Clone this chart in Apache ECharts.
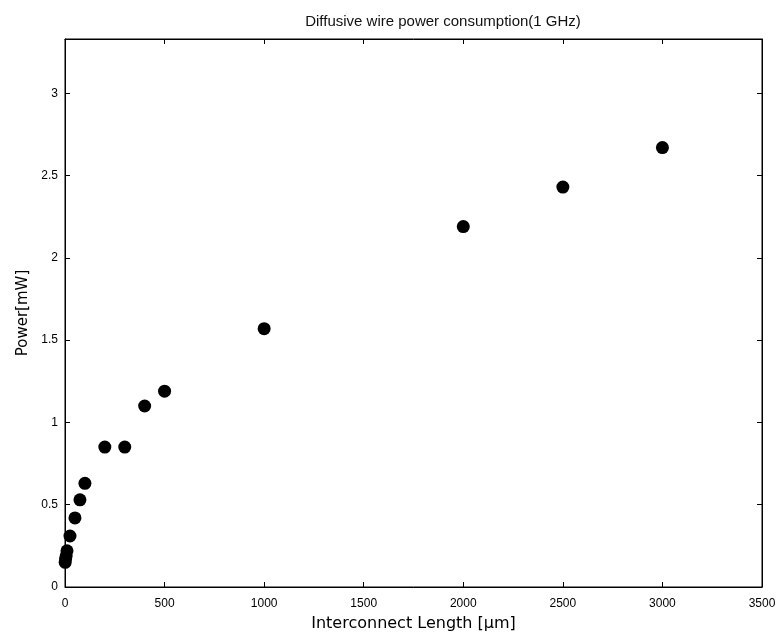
<!DOCTYPE html>
<html>
<head>
<meta charset="utf-8">
<script src="https://cdn.jsdelivr.net/npm/echarts@6/dist/echarts.min.js"></script>
<style>html,body{margin:0;padding:0;background:#fff}#c{width:781px;height:639px}</style>
</head>
<body>
<div id="c"></div>
<script>
var lengths = [1, 3, 6, 10, 25, 50, 75, 100, 200, 300, 400, 500, 1000, 2000, 2500, 3000];
var power = [0.15, 0.17, 0.19, 0.22, 0.31, 0.42, 0.53, 0.63, 0.85, 0.85, 1.10, 1.19, 1.57, 2.19, 2.43, 2.67];
var xTicks = ['0', '500', '1000', '1500', '2000', '2500', '3000', '3500'];
var yTicks = ['0', '0.5', '1', '1.5', '2', '2.5', '3'];

var pts = lengths.map(function (l, i) { return [l, power[i]]; });
var font = 'Liberation Sans';
var wide = 'DejaVu Sans';
var chart = echarts.init(document.getElementById('c'));
var axisLine = { show: true, onZero: false, lineStyle: { color: '#000', width: 1 } };
var tickIn = { show: true, inside: true, length: 5, lineStyle: { color: '#000' } };
chart.setOption({
  animation: false,
  backgroundColor: '#fff',
  title: {
    text: 'Diffusive wire power consumption(1 GHz)',
    left: 438, top: 9, textAlign: 'center',
    textStyle: { fontFamily: font, fontSize: 15, fontWeight: 'normal', color: '#111' }
  },
  grid: { left: 65, right: 19, top: 39, bottom: 52, show: true, borderColor: '#000', borderWidth: 1, backgroundColor: 'transparent' },
  xAxis: [{
    type: 'value', min: 0, max: 3500, interval: 500,
    axisLine: axisLine, axisTick: tickIn, splitLine: { show: false },
    axisLabel: { margin: 11, fontFamily: font, fontSize: 12, color: '#000',
      formatter: function (v) { return xTicks[Math.round(v / 500)]; } },
    name: 'Interconnect Length [μm]', nameLocation: 'middle', nameGap: 29,
    nameTextStyle: { fontFamily: wide, fontSize: 16, color: '#000' }
  }, {
    type: 'value', position: 'top', min: 0, max: 3500, interval: 500,
    axisLine: axisLine, axisTick: tickIn, axisLabel: { show: false }, splitLine: { show: false }
  }],
  yAxis: [{
    type: 'value', min: 0, max: 3.33, interval: 0.5,
    axisLine: axisLine, axisTick: tickIn, splitLine: { show: false },
    axisLabel: { margin: 7, fontFamily: font, fontSize: 12, color: '#000', showMaxLabel: false,
      formatter: function (v) { var k = Math.round(v / 0.5); return yTicks[k] !== undefined ? yTicks[k] : ''; } },
    name: 'Power[mW]', nameLocation: 'middle', nameGap: 33,
    nameTextStyle: { fontFamily: wide, fontSize: 15, color: '#000' }
  }, {
    type: 'value', position: 'right', min: 0, max: 3.33, interval: 0.5,
    axisLine: axisLine, axisTick: tickIn, axisLabel: { show: false }, splitLine: { show: false }
  }],
  series: [{
    type: 'scatter', xAxisIndex: 0, yAxisIndex: 0,
    data: pts, symbol: 'circle', symbolSize: 13,
    itemStyle: { color: '#000', opacity: 1 }
  }, {
    type: 'scatter', xAxisIndex: 1, yAxisIndex: 1,
    data: [], silent: true
  }]
});
</script>
</body>
</html>
